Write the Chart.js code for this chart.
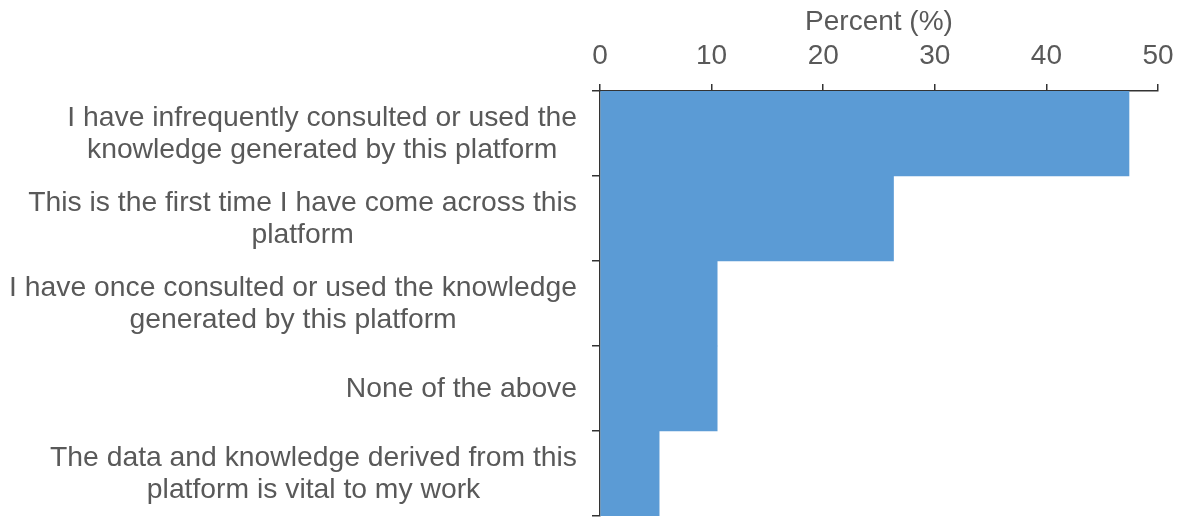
<!DOCTYPE html>
<html><head><meta charset="utf-8">
<script src="https://cdn.jsdelivr.net/npm/chart.js@4.4.0/dist/chart.umd.min.js"></script>
<style>html,body{margin:0;padding:0;background:#fff}#c{display:block}</style>
</head><body>
<canvas id="c" width="1180" height="517"></canvas>
<script>
const categories = [
  ["I have infrequently consulted or used the", "knowledge generated by this platform"],
  ["This is the first time I have come across this", "platform"],
  ["I have once consulted or used the knowledge", "generated by this platform"],
  ["None of the above"],
  ["The data and knowledge derived from this", "platform is vital to my work"]
];
const percentValues = [47.4, 26.3, 10.5, 10.5, 5.3];
const xTickValues = [0, 10, 20, 30, 40, 50];
const axisTitle = "Percent (%)";

const FONT_FAMILY = '"Liberation Sans", Arial, sans-serif';
const TEXT_COLOR = '#595959';
const AXIS_COLOR = '#333333';

const blockLabels = {
  id: 'blockLabels',
  afterDraw(chart) {
    const ctx = chart.ctx, y = chart.scales.y;
    ctx.save();
    ctx.font = '28.3px ' + FONT_FAMILY;
    ctx.fillStyle = TEXT_COLOR;
    ctx.textAlign = 'center';
    ctx.textBaseline = 'middle';
    const right = chart.chartArea.left - 23;
    const lh = 32;
    categories.forEach((lines, i) => {
      const w = Math.max(...lines.map(l => ctx.measureText(l).width));
      const cx = right - w / 2;
      const cy = y.getPixelForValue(i) + 1;
      lines.forEach((l, j) => ctx.fillText(l, cx, cy + (j - (lines.length - 1) / 2) * lh));
    });
    ctx.restore();
  }
};

new Chart(document.getElementById('c'), {
  type: 'bar',
  data: {
    labels: categories,
    datasets: [{
      data: percentValues,
      backgroundColor: '#5B9BD5',
      borderWidth: 0,
      barPercentage: 1,
      categoryPercentage: 1
    }]
  },
  options: {
    indexAxis: 'y',
    responsive: false,
    animation: false,
    devicePixelRatio: 1,
    layout: { padding: { left: 0, right: 22, top: 0, bottom: 1 } },
    plugins: { legend: { display: false }, tooltip: { enabled: false } },
    scales: {
      x: {
        position: 'top',
        min: 0, max: 50,
        afterBuildTicks: (s) => { s.ticks = xTickValues.map(v => ({ value: v })); },
        ticks: { font: { size: 28, family: FONT_FAMILY }, color: TEXT_COLOR, padding: 11, maxRotation: 0 },
        grid: { drawOnChartArea: false, drawTicks: true, tickLength: 7, color: AXIS_COLOR, lineWidth: 1.5 },
        border: { color: AXIS_COLOR, width: 1.5 },
        title: { display: true, text: axisTitle, font: { size: 28, family: FONT_FAMILY }, color: TEXT_COLOR, padding: { top: 5, bottom: 0 } },
        afterFit: (s) => { s.paddingLeft = 0; s.paddingRight = 0; s.height = 91; }
      },
      y: {
        ticks: { display: false },
        grid: { drawOnChartArea: false, drawTicks: true, tickLength: 8, color: AXIS_COLOR, lineWidth: 1.5, offset: true },
        border: { color: AXIS_COLOR, width: 1.5 },
        afterFit: (s) => { s.width = 600; s.paddingTop = 0; s.paddingBottom = 0; }
      }
    }
  },
  plugins: [blockLabels]
});
</script>
</body></html>
